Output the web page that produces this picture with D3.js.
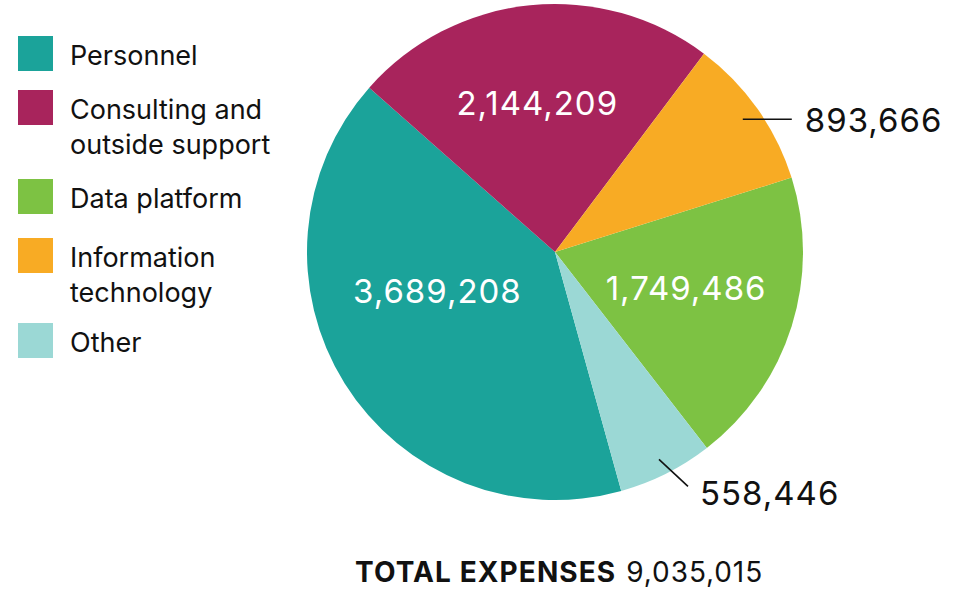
<!DOCTYPE html>
<html>
<head>
<meta charset="utf-8">
<script src="https://cdn.jsdelivr.net/npm/d3@7"></script>
<style>
    body { margin: 0; background: #fff; }
    svg { display: block; font-family: Inter, "Liberation Sans", sans-serif; }
</style>
</head>
<body>
<svg id="chart" width="960" height="590"></svg>
<script>
// legend order
const categories = ['Personnel', 'Consulting and outside support', 'Data platform', 'Information technology', 'Other'];
const legendLines = [['Personnel'], ['Consulting and', 'outside support'], ['Data platform'], ['Information', 'technology'], ['Other']];
const amounts = [3689208, 2144209, 1749486, 893666, 558446];
const colors = ['#1ba39a', '#a8245c', '#7dc243', '#f8ab24', '#9bd8d5'];
// clockwise order of slices around the pie
const sliceOrder = ['Personnel', 'Consulting and outside support', 'Information technology', 'Data platform', 'Other'];
const totalLabel = 'TOTAL EXPENSES';

const data = categories.map((c, i) => ({name: c, value: amounts[i], color: colors[i]}));
const total = d3.sum(amounts);
const fmt = d3.format(',');

const svg = d3.select('#chart');
const cx = 555, cy = 252, radius = 248;

const pie = d3.pie()
    .value(d => d.value)
    .sort((a, b) => sliceOrder.indexOf(a.name) - sliceOrder.indexOf(b.name))
    .startAngle(164.5 * Math.PI / 180)
    .endAngle(164.5 * Math.PI / 180 + 2 * Math.PI);

const arc = d3.arc().innerRadius(0).outerRadius(radius);
const arcs = pie(data);

const g = svg.append('g').attr('transform', `translate(${cx},${cy})`);

g.selectAll('path.slice')
    .data(arcs)
    .join('path')
    .attr('class', 'slice')
    .attr('d', arc)
    .attr('fill', d => d.data.color);

// label placement: inside labels at a radius along the slice, outside ones with a leader
const labelLayout = {
    'Personnel': {inside: true, r: 124, da: 13.5},
    'Consulting and outside support': {inside: true, r: 150, da: -1},
    'Data platform': {inside: true, r: 136, da: -2},
    'Information technology': {inside: false, r: 230, lead: [49, 0], text: [13, 13]},
    'Other': {inside: false, r: 232, lead: [29, 27], text: [12, 19]}
};

function polar(r, angle) {
    return [r * Math.sin(angle), -r * Math.cos(angle)];
}

arcs.forEach(d => {
    const lay = labelLayout[d.data.name];
    const mid = (d.startAngle + d.endAngle) / 2;
    if (lay.inside) {
        const [x, y] = polar(lay.r, mid + lay.da * Math.PI / 180);
        g.append('text')
            .attr('x', x)
            .attr('y', y)
            .attr('dy', '0.36em')
            .attr('text-anchor', 'middle')
            .attr('fill', '#fff')
            .style('font-size', '33px')
            .style('letter-spacing', '1px')
            .text(fmt(d.data.value));
    } else {
        const [x0, y0] = polar(lay.r, mid);
        const x1 = x0 + lay.lead[0], y1 = y0 + lay.lead[1];
        g.append('line')
            .attr('x1', x0).attr('y1', y0)
            .attr('x2', x1).attr('y2', y1)
            .attr('stroke', '#111')
            .attr('stroke-width', 1.6);
        g.append('text')
            .attr('x', x1 + lay.text[0])
            .attr('y', y1 + lay.text[1])
            .attr('text-anchor', 'start')
            .attr('fill', '#111')
            .style('font-size', '33px')
            .style('letter-spacing', '1px')
            .text(fmt(d.data.value));
    }
});

// legend
const legendTops = [36, 90, 179, 238, 323];
const legend = svg.append('g');
categories.forEach((c, i) => {
    const top = legendTops[i];
    legend.append('rect')
        .attr('x', 18).attr('y', top)
        .attr('width', 35).attr('height', 35)
        .attr('fill', colors[i]);
    const t = legend.append('text')
        .attr('x', 70)
        .attr('y', top + 29)
        .attr('fill', '#111')
        .style('font-size', '27px');
    legendLines[i].forEach((line, j) => {
        t.append('tspan').attr('x', 70).attr('dy', j === 0 ? 0 : 35).text(line);
    });
});

// total
const totalText = svg.append('text')
    .attr('x', 355)
    .attr('y', 582)
    .attr('fill', '#111')
    .style('font-size', '28px');
totalText.append('tspan').style('font-weight', 700).style('letter-spacing', '1.1px').text(totalLabel);
totalText.append('tspan').attr('dx', 10).style('letter-spacing', '0.9px').text(fmt(total));
</script>
</body>
</html>
